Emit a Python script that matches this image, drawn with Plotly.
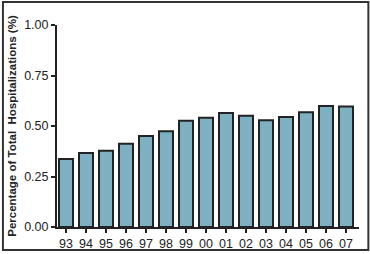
import plotly.graph_objects as go

years = ["93", "94", "95", "96", "97", "98", "99", "00", "01", "02", "03", "04", "05", "06", "07"]
values = [0.337, 0.366, 0.378, 0.412, 0.450, 0.474, 0.526, 0.541, 0.564, 0.551, 0.528, 0.545, 0.568, 0.599, 0.597]
y_ticks = [0.0, 0.25, 0.5, 0.75, 1.0]
y_tick_labels = ["0.00", "0.25", "0.50", "0.75", "1.00"]

fig = go.Figure(go.Bar(
    x=years, y=values,
    marker=dict(color="#7DB1C2", line=dict(color="#222222", width=2)),
))

fig.update_layout(
    width=370, height=254,
    margin=dict(l=57, r=11, t=25, b=27),
    paper_bgcolor="white", plot_bgcolor="white",
    bargap=0.3, showlegend=False,
    font=dict(family="Liberation Sans, Arial, sans-serif", color="#222222"),
    xaxis=dict(
        type="category", range=[-0.45, 14.65], automargin=False,
        showline=True, linecolor="#222222", linewidth=2,
        ticks="outside", ticklen=4, tickwidth=1.5, tickcolor="#222222",
        tickfont=dict(size=12.5), showgrid=False,
    ),
    yaxis=dict(
        range=[0, 1.0], tickvals=y_ticks, ticktext=y_tick_labels, automargin=False,
        showline=True, linecolor="#222222", linewidth=2,
        ticks="outside", ticklen=4, tickwidth=1.5, tickcolor="#222222",
        tickfont=dict(size=12.5), showgrid=False, zeroline=False,
        title=dict(text="<b>Percentage of Total  Hospitalizations (%)</b>",
                   font=dict(size=11.5), standoff=5),
    ),
    shapes=[dict(type="rect", xref="paper", yref="paper",
                 x0=-0.179, x1=1.031, y0=-0.114, y1=1.114,
                 line=dict(color="#333333", width=2))],
)

fig.write_html("out.html")
